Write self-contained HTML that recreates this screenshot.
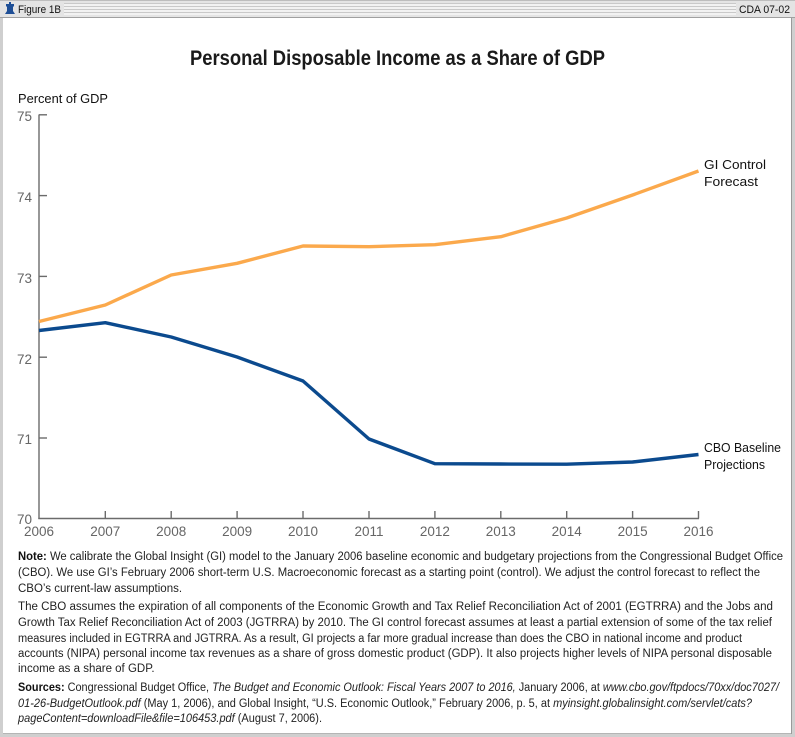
<!DOCTYPE html>
<html>
<head>
<meta charset="utf-8">
<style>
  html, body { margin: 0; padding: 0; background: #ffffff; }
  svg { display: block; }
  text { font-family: "Liberation Sans", "DejaVu Sans", sans-serif; }
</style>
</head>
<body>
<svg width="795" height="737" viewBox="0 0 795 737" xmlns="http://www.w3.org/2000/svg">
  <defs>
    <pattern id="stripes" x="0" y="0" width="4" height="3" patternUnits="userSpaceOnUse">
      <rect x="0" y="0" width="4" height="3" fill="#f2f2f2"/>
      <rect x="0" y="0" width="4" height="1" fill="#c9c9c9"/>
    </pattern>
  </defs>

  <!-- outer frame -->
  <rect x="0" y="0" width="795" height="737" fill="#cfcfcf"/>
  <rect x="3" y="18" width="788" height="715" fill="#ffffff"/>
  <line x1="3" y1="733.5" x2="791" y2="733.5" stroke="#b5b5b5" stroke-width="1"/>
  <line x1="791.5" y1="18" x2="791.5" y2="734" stroke="#9a9a9a" stroke-width="1"/>

  <!-- header bar -->
  <rect x="0" y="0" width="795" height="17" fill="#e4e4e4"/>
  <rect x="64" y="3" width="672" height="12" fill="url(#stripes)"/>
  <line x1="0" y1="17.5" x2="795" y2="17.5" stroke="#a0a0a0" stroke-width="1"/>
  <line x1="0" y1="0.5" x2="795" y2="0.5" stroke="#bdbdbd" stroke-width="1"/>
  <!-- bell icon -->
  <path d="M6,4 L14,4 L14,6 L13,7 L13,11 L15,14 L5,14 L7,11 L7,7 L6,6 Z" fill="#1f4f96"/>
  <rect x="9" y="2" width="2" height="2" fill="#1f4f96"/>
  <text x="18" y="13" font-size="11" fill="#111" textLength="43" lengthAdjust="spacingAndGlyphs">Figure 1B</text>
  <text x="739" y="13" font-size="11" fill="#111" textLength="51" lengthAdjust="spacingAndGlyphs">CDA 07-02</text>

  <!-- title -->
  <text x="190" y="65" font-size="21" font-weight="bold" fill="#1a1a1a" textLength="415" lengthAdjust="spacingAndGlyphs">Personal Disposable Income as a Share of GDP</text>

  <!-- y-axis title -->
  <text x="18" y="103" font-size="13" fill="#111" textLength="90" lengthAdjust="spacingAndGlyphs">Percent of GDP</text>

  <!-- axes -->
  <g stroke="#6b6b6b" stroke-width="1.4" fill="none">
    <line x1="39" y1="114.5" x2="39" y2="519"/>
    <line x1="38.3" y1="518.5" x2="699" y2="518.5"/>
    <line x1="39" y1="114.8" x2="47" y2="114.8"/>
    <line x1="39" y1="195.6" x2="47" y2="195.6"/>
    <line x1="39" y1="276.4" x2="47" y2="276.4"/>
    <line x1="39" y1="357.2" x2="47" y2="357.2"/>
    <line x1="39" y1="438" x2="47" y2="438"/>
    <line x1="105.3" y1="511" x2="105.3" y2="518.5"/>
    <line x1="171.2" y1="511" x2="171.2" y2="518.5"/>
    <line x1="237.1" y1="511" x2="237.1" y2="518.5"/>
    <line x1="303" y1="511" x2="303" y2="518.5"/>
    <line x1="369" y1="511" x2="369" y2="518.5"/>
    <line x1="434.9" y1="511" x2="434.9" y2="518.5"/>
    <line x1="500.8" y1="511" x2="500.8" y2="518.5"/>
    <line x1="566.7" y1="511" x2="566.7" y2="518.5"/>
    <line x1="632.6" y1="511" x2="632.6" y2="518.5"/>
    <line x1="698.5" y1="511" x2="698.5" y2="518.5"/>
  </g>

  <!-- y tick labels -->
  <g font-size="13.5" fill="#666">
    <text x="17" y="121">75</text>
    <text x="17" y="202">74</text>
    <text x="17" y="283">73</text>
    <text x="17" y="364">72</text>
    <text x="17" y="444">71</text>
    <text x="17" y="524">70</text>
  </g>
  <!-- x tick labels -->
  <g font-size="13.5" fill="#666" text-anchor="middle">
    <text x="39" y="536">2006</text>
    <text x="105.3" y="536">2007</text>
    <text x="171.2" y="536">2008</text>
    <text x="237.1" y="536">2009</text>
    <text x="303" y="536">2010</text>
    <text x="369" y="536">2011</text>
    <text x="434.9" y="536">2012</text>
    <text x="500.8" y="536">2013</text>
    <text x="566.7" y="536">2014</text>
    <text x="632.6" y="536">2015</text>
    <text x="698.5" y="536">2016</text>
  </g>

  <!-- series -->
  <polyline fill="none" stroke="#FBA94C" stroke-width="3.4" stroke-linejoin="round"
    points="39,321.5 105.3,305 171.2,275 237.1,263.3 303,246 369,246.7 434.9,244.7 500.8,236.7 566.7,218 632.6,195 698.5,171"/>
  <polyline fill="none" stroke="#0B4A8E" stroke-width="3.4" stroke-linejoin="round"
    points="39,330.5 105.3,322.7 171.2,337 237.1,357 303,381 369,439 434.9,463.7 500.8,464 566.7,464.2 632.6,462 698.5,454.5"/>

  <!-- series labels -->
  <g font-size="13" fill="#111">
    <text x="704" y="169" textLength="62" lengthAdjust="spacingAndGlyphs">GI Control</text>
    <text x="704" y="186" textLength="54" lengthAdjust="spacingAndGlyphs">Forecast</text>
    <text x="704" y="452" textLength="77" lengthAdjust="spacingAndGlyphs">CBO Baseline</text>
    <text x="704" y="469" textLength="61" lengthAdjust="spacingAndGlyphs">Projections</text>
  </g>

  <!-- notes -->
  <g font-size="11.5" fill="#222">
    <text x="18" y="560" textLength="765" lengthAdjust="spacingAndGlyphs"><tspan font-weight="bold" fill="#111">Note:</tspan> We calibrate the Global Insight (GI) model to the January 2006 baseline economic and budgetary projections from the Congressional Budget Office</text>
    <text x="18" y="576" textLength="742" lengthAdjust="spacingAndGlyphs">(CBO). We use GI’s February 2006 short-term U.S. Macroeconomic forecast as a starting point (control). We adjust the control forecast to reflect the</text>
    <text x="18" y="592">CBO’s current-law assumptions.</text>

    <text x="18" y="610" textLength="755" lengthAdjust="spacingAndGlyphs">The CBO assumes the expiration of all components of the Economic Growth and Tax Relief Reconciliation Act of 2001 (EGTRRA) and the Jobs and</text>
    <text x="18" y="626" textLength="754" lengthAdjust="spacingAndGlyphs">Growth Tax Relief Reconciliation Act of 2003 (JGTRRA) by 2010. The GI control forecast assumes at least a partial extension of some of the tax relief</text>
    <text x="18" y="642" textLength="724" lengthAdjust="spacingAndGlyphs">measures included in EGTRRA and JGTRRA. As a result, GI projects a far more gradual increase than does the CBO in national income and product</text>
    <text x="18" y="657" textLength="754" lengthAdjust="spacingAndGlyphs">accounts (NIPA) personal income tax revenues as a share of gross domestic product (GDP). It also projects higher levels of NIPA personal disposable</text>
    <text x="18" y="672">income as a share of GDP.</text>

    <text x="18" y="691" textLength="761" lengthAdjust="spacingAndGlyphs"><tspan font-weight="bold" fill="#111">Sources:</tspan> Congressional Budget Office, <tspan font-style="italic">The Budget and Economic Outlook: Fiscal Years 2007 to 2016,</tspan> January 2006, at <tspan font-style="italic">www.cbo.gov/ftpdocs/70xx/doc7027/</tspan></text>
    <text x="18" y="707" textLength="734" lengthAdjust="spacingAndGlyphs"><tspan font-style="italic">01-26-BudgetOutlook.pdf</tspan> (May 1, 2006),  and Global Insight, “U.S. Economic Outlook,” February 2006, p. 5, at <tspan font-style="italic">myinsight.globalinsight.com/servlet/cats?</tspan></text>
    <text x="18" y="722" textLength="304" lengthAdjust="spacingAndGlyphs"><tspan font-style="italic">pageContent=downloadFile&amp;file=106453.pdf</tspan> (August 7, 2006).</text>
  </g>
</svg>
</body>
</html>
